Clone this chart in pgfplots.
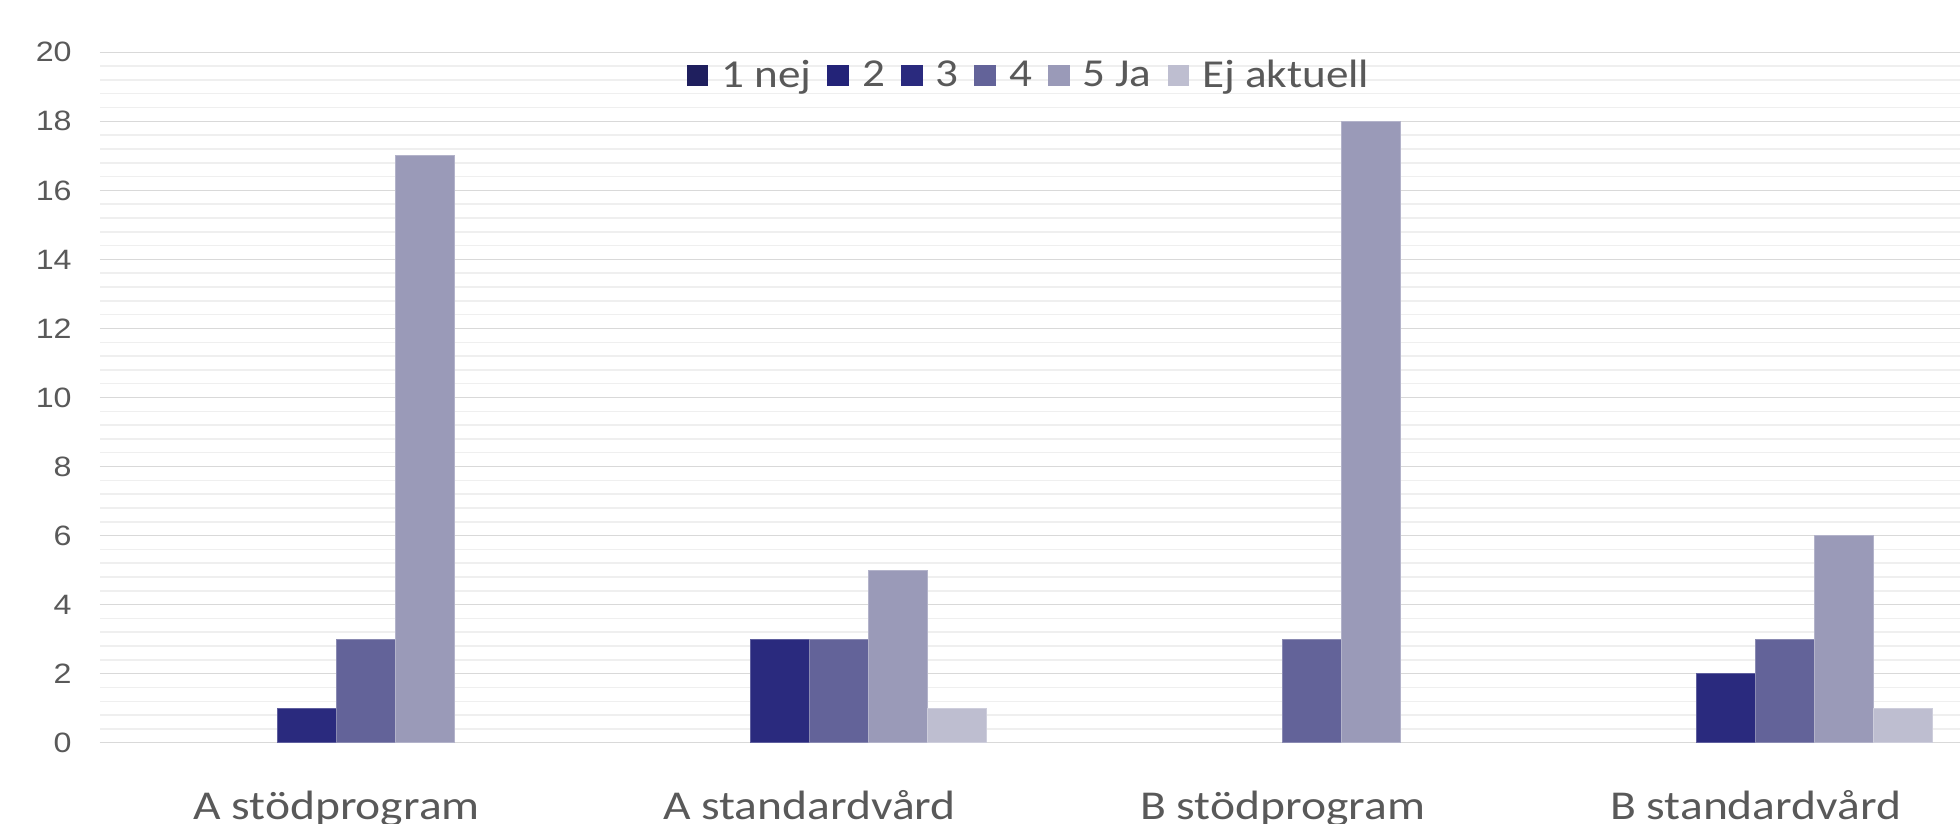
\documentclass[border=0pt]{standalone}
\usepackage{pgfplots}
\pgfplotsset{compat=1.18}
\usepackage{fontspec}
\setmainfont{Carlito}
\newfontfamily\arialf[FakeStretch=1.15]{Liberation Sans}
\newfontfamily\catfont[FakeStretch=1.16]{Carlito}
\newfontfamily\legfont[FakeStretch=1.14]{Carlito}
\definecolor{c1}{HTML}{1F1F5E}
\definecolor{c2}{HTML}{232378}
\definecolor{c3}{HTML}{2A2A7E}
\definecolor{c4}{HTML}{636399}
\definecolor{c5}{HTML}{9A9AB8}
\definecolor{c6}{HTML}{BEBED0}
\definecolor{txt}{HTML}{595959}
\definecolor{majg}{HTML}{D9D9D9}
\definecolor{ming}{HTML}{EFEFEF}
\begin{document}
\begin{tikzpicture}
\begin{axis}[
  at={(0,0)}, anchor=south west,
  scale only axis,
  width=930pt, height=345.2pt,
  xmin=-0.5, xmax=3.432,
  ymin=0, ymax=20,
  ybar=0pt, bar width=29.5pt,
  xtick={0,1,2,3},
  xticklabels={A stödprogram, A standardvård, B stödprogram, B standardvård},
  ytick={0,2,...,20},
  minor y tick num=4,
  ymajorgrids, yminorgrids,
  major grid style={draw=majg, line width=0.75pt},
  minor grid style={draw=ming, line width=0.75pt},
  axis line style={draw=none},
  tick style={draw=none},
  /pgf/number format/assume math mode=true,
  yticklabel style={font=\arialf\fontsize{14pt}{16pt}\selectfont, text=txt, anchor=east, inner sep=0pt, xshift=-14pt},
  xticklabel style={font=\catfont\fontsize{20.5pt}{24pt}\selectfont, text=txt, anchor=base, inner sep=0pt, yshift=-34pt},
  legend columns=-1,
  legend style={draw=none, fill=none, at={(0.5,0.9664)}, anchor=center,
    font=\legfont\fontsize{19.8pt}{22pt}\selectfont, text=txt,
    nodes={inner xsep=2pt},
    /tikz/every odd column/.append style={column sep=4.5pt},
    /tikz/every even column/.append style={column sep=6pt}},
  legend image code/.code={\fill[#1,draw=none] (0pt,-5.4pt) rectangle (10.8pt,5.4pt);},
]
\addplot[fill=c1, draw=none, fill opacity=0, legend image post style={fill opacity=1}] coordinates {(0,0) (1,0) (2,0) (3,0)};
\addplot[fill=c2, draw=none, fill opacity=0, legend image post style={fill opacity=1}] coordinates {(0,0) (1,0) (2,0) (3,0)};
\addplot[fill=c3, draw=c3!75!white, line width=0.5pt] coordinates {(0,1) (1,3) (3,2)};
\addplot[fill=c4, draw=c4!75!white, line width=0.5pt] coordinates {(0,3) (1,3) (2,3) (3,3)};
\addplot[fill=c5, draw=c5!75!white, line width=0.5pt] coordinates {(0,17) (1,5) (2,18) (3,6)};
\addplot[fill=c6, draw=c6!75!white, line width=0.5pt] coordinates {(1,1) (3,1)};
\legend{1 nej, 2, 3, 4, 5 Ja, Ej aktuell}
\end{axis}
\pgfresetboundingbox
\path[use as bounding box] ([xshift=-50pt,yshift=-40.65pt]current axis.south west) rectangle ([yshift=26.15pt]current axis.north east);
\end{tikzpicture}
\end{document}
